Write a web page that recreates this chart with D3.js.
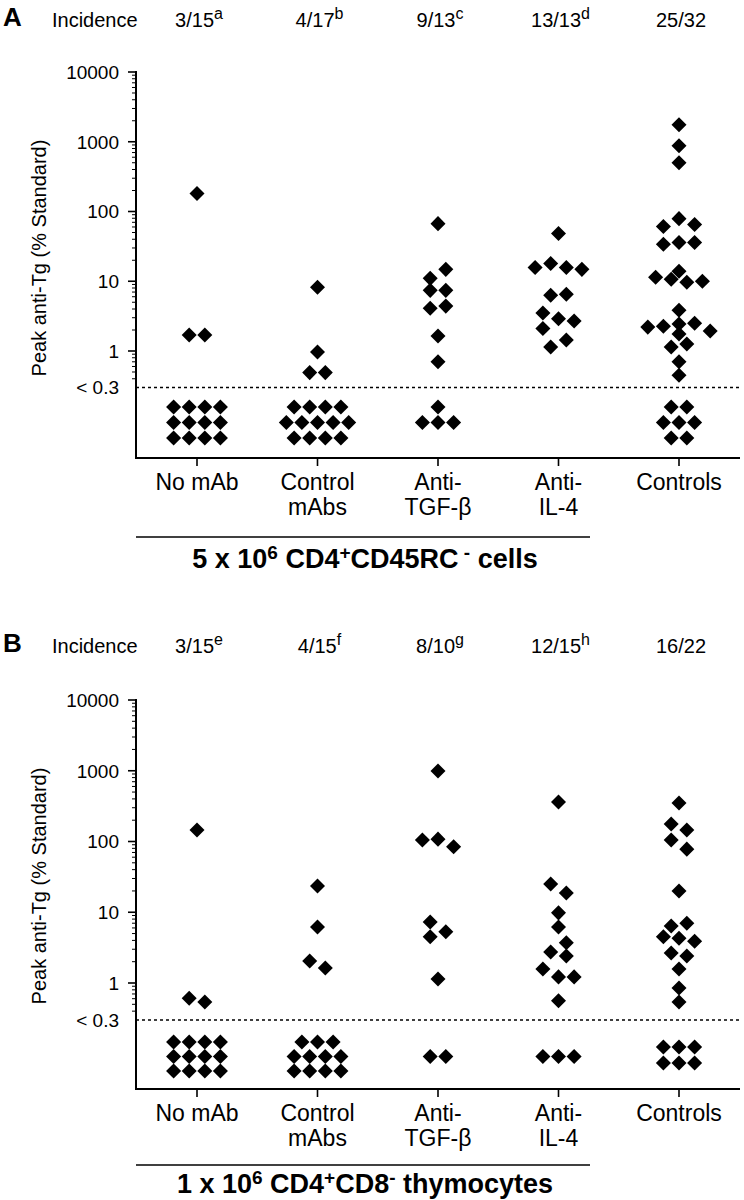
<!DOCTYPE html>
<html>
<head>
<meta charset="utf-8">
<script src="https://cdn.jsdelivr.net/npm/d3@7"></script>
<style>
  html, body { margin: 0; padding: 0; background: #fff; }
  svg { display: block; }
</style>
</head>
<body>
<svg id="chart" width="744" height="1200"></svg>
<script>
// ---------------- DATA ----------------
const categories = ["No mAb", "Control mAbs", "Anti-TGF-β", "Anti-IL-4", "Controls"];
const categoryLines = [["No mAb"], ["Control", "mAbs"], ["Anti-", "TGF-β"], ["Anti-", "IL-4"], ["Controls"]];

const incidenceA = ["3/15", "4/17", "9/13", "13/13", "25/32"];
const incidenceNotesA = ["a", "b", "c", "d", ""];
const incidenceB = ["3/15", "4/15", "8/10", "12/15", "16/22"];
const incidenceNotesB = ["e", "f", "g", "h", ""];

const yTickValues = [1, 10, 100, 1000, 10000];
const yTickLabels = ["1", "10", "100", "1000", "10000"];
const yMinorTicks = [0.4, 0.5, 0.6, 0.7, 0.8, 0.9,
  2, 3, 4, 5, 6, 7, 8, 9, 20, 30, 40, 50, 60, 70, 80, 90,
  200, 300, 400, 500, 600, 700, 800, 900, 2000, 3000, 4000, 5000, 6000, 7000, 8000, 9000];
const threshold = 0.3;
const thresholdLabel = "< 0.3";
const yTitle = "Peak anti-Tg (% Standard)";

// detected values: [peak anti-Tg (% standard), horizontal offset in symbol widths]
const aNoMab = [[181, 0], [1.7, -0.5], [1.7, 0.5]];
const aControlMabs = [[8.2, 0], [0.97, 0], [0.49, -0.5], [0.49, 0.5]];
const aAntiTGF = [[67, 0], [14.8, 0.5], [11, -0.5], [7.4, -0.5], [7.4, 0.5], [4.1, -0.5], [4.4, 0.5], [1.64, 0], [0.70, 0]];
const aAntiIL4 = [[48.5, 0], [15.8, -1.5], [18, -0.5], [15.8, 0.5], [14.8, 1.5], [6.3, -0.5], [6.5, 0.5],
  [3.5, -1], [2.9, 0], [2.7, 1], [2.1, -1], [1.44, 0.5], [1.14, -0.5]];
const aControls = [[1750, 0], [877, 0], [500, 0], [79, 0], [61, -1], [65, 1], [33.8, -1], [36, 0], [36, 1],
  [11.4, -1.5], [10.7, -0.5], [13.9, 0], [9.7, 0.5], [10, 1.5], [3.85, 0],
  [2.2, -2], [2.27, -1], [2.43, 0], [2.5, 1], [1.93, 2], [1.75, 0], [1.14, -0.5], [1.26, 0.5], [0.70, 0], [0.45, 0]];

// below detection (< 0.3): [row, horizontal offset in symbol widths]
const aNoMabND = [[0, -1.5], [0, -0.5], [0, 0.5], [0, 1.5], [1, -1.5], [1, -0.5], [1, 0.5], [1, 1.5], [2, -1.5], [2, -0.5], [2, 0.5], [2, 1.5]];
const aControlMabsND = [[0, -1.5], [0, -0.5], [0, 0.5], [0, 1.5], [1, -2], [1, -1], [1, 0], [1, 1], [1, 2], [2, -1.5], [2, -0.5], [2, 0.5], [2, 1.5]];
const aAntiTGFND = [[0, 0], [1, -1], [1, 0], [1, 1]];
const aAntiIL4ND = [];
const aControlsND = [[0, -0.5], [0, 0.5], [1, -1], [1, 0], [1, 1], [2, -0.5], [2, 0.5]];

const bNoMab = [[145, 0], [0.61, -0.5], [0.54, 0.5]];
const bControlMabs = [[23.5, 0], [6.2, 0], [2.05, -0.5], [1.63, 0.5]];
const bAntiTGF = [[992, 0], [105, -1], [108, 0], [84, 1], [7.3, -0.5], [4.5, -0.5], [5.3, 0.5], [1.14, 0]];
const bAntiIL4 = [[361, 0], [25, -0.5], [18.7, 0.5], [9.8, 0], [6.2, 0], [3.7, 0.5], [2.74, -0.5], [2.4, 0.5],
  [1.58, -1], [1.22, 0], [1.22, 1], [0.56, 0]];
const bControls = [[350, 0], [177, -0.5], [145, 0.5], [105, -0.5], [78, 0.5], [20, 0], [6.4, -0.5], [7.0, 0.5],
  [4.5, -1], [4.3, 0], [3.9, 1], [2.65, -0.5], [2.4, 0.5], [1.58, 0], [0.85, 0], [0.54, 0]];

const bNoMabND = [[0, -1.5], [0, -0.5], [0, 0.5], [0, 1.5], [1, -1.5], [1, -0.5], [1, 0.5], [1, 1.5], [2, -1.5], [2, -0.5], [2, 0.5], [2, 1.5]];
const bControlMabsND = [[0, -1], [0, 0], [0, 1], [1, -1.5], [1, -0.5], [1, 0.5], [1, 1.5], [2, -1.5], [2, -0.5], [2, 0.5], [2, 1.5]];
const bAntiTGFND = [[1, -0.5], [1, 0.5]];
const bAntiIL4ND = [[1, -1], [1, 0], [1, 1]];
const bControlsND = [[0.35, -1], [0.35, 0], [0.35, 1], [1.45, -1], [1.45, 0], [1.45, 1]];

const captionA = [["5 x 10", false], ["6", true], [" CD4", false], ["+", true], ["CD45RC", false], [" -", true], [" cells", false]];
const captionB = [["1 x 10", false], ["6", true], [" CD4", false], ["+", true], ["CD8", false], ["-", true], [" thymocytes", false]];

// ---------------- DRAWING ----------------
const FONT = "'Liberation Sans', Arial, Helvetica, sans-serif";
const svg = d3.select("#chart");

const x = d3.scalePoint().domain(categories).range([197, 679]);
const STEP = 15.6;
const diamond = d3.symbol().type(d3.symbolSquare).size(113)();

function richText(g, parts, opts) {
  const t = g.append("text")
    .attr("x", opts.x).attr("y", opts.y)
    .attr("text-anchor", opts.anchor || "start")
    .attr("font-family", FONT)
    .attr("font-size", opts.size)
    .attr("font-weight", opts.weight || "normal")
    .attr("fill", "#000");
  let raised = false;
  parts.forEach(([s, sup]) => {
    const ts = t.append("tspan").text(s);
    if (sup) {
      ts.attr("font-size", opts.supSize);
      if (!raised) ts.attr("dy", -opts.shift);
      raised = true;
    } else {
      if (raised) ts.attr("dy", opts.shift);
      raised = false;
    }
  });
  return t;
}

function drawPanel(cfg) {
  const g = svg.append("g");
  const y = d3.scaleLog().domain([1, 10000]).range([cfg.y1, cfg.yTop]);
  const xLeft = 136, xRight = 740;

  // panel letter
  g.append("text").attr("x", 3).attr("y", cfg.letterY)
    .attr("font-family", FONT).attr("font-size", 26).attr("font-weight", "bold")
    .text(cfg.letter);
  // incidence row
  g.append("text").attr("x", 52).attr("y", cfg.incY)
    .attr("font-family", FONT).attr("font-size", 20).text("Incidence");
  categories.forEach((c, i) => {
    const parts = [[cfg.incidence[i], false]];
    if (cfg.notes[i]) parts.push([cfg.notes[i], true]);
    richText(g, parts, { x: x(c) + 2, y: cfg.incY, anchor: "middle", size: 20, supSize: 16, shift: 8 });
  });

  // y axis
  g.append("line").attr("x1", xLeft).attr("x2", xLeft).attr("y1", cfg.yTop - 1).attr("y2", cfg.xAxisY)
    .attr("stroke", "#000").attr("stroke-width", 2);
  g.selectAll(".maj").data(yTickValues).join("line")
    .attr("x1", xLeft - 8).attr("x2", xLeft).attr("y1", d => y(d)).attr("y2", d => y(d))
    .attr("stroke", "#000").attr("stroke-width", 1.6);
  g.selectAll(".min").data(yMinorTicks).join("line")
    .attr("x1", xLeft - 4).attr("x2", xLeft).attr("y1", d => y(d)).attr("y2", d => y(d))
    .attr("stroke", "#000").attr("stroke-width", 1);
  g.selectAll(".tl").data(yTickValues).join("text")
    .attr("x", xLeft - 17).attr("y", d => y(d)).attr("dy", "0.36em")
    .attr("text-anchor", "end").attr("font-family", FONT).attr("font-size", 19)
    .text((d, i) => yTickLabels[i]);
  // threshold
  g.append("line").attr("x1", xLeft).attr("x2", xRight).attr("y1", y(threshold)).attr("y2", y(threshold))
    .attr("stroke", "#000").attr("stroke-width", 1.5).attr("stroke-dasharray", "3,3");
  g.append("text").attr("x", xLeft - 17).attr("y", y(threshold)).attr("dy", "0.36em")
    .attr("text-anchor", "end").attr("font-family", FONT).attr("font-size", 19).text(thresholdLabel);
  // y title
  g.append("text").attr("transform", `translate(46,${cfg.yTop + 186}) rotate(-90)`)
    .attr("text-anchor", "middle").attr("font-family", FONT).attr("font-size", 20).text(yTitle);

  // x axis
  g.append("line").attr("x1", xLeft - 1).attr("x2", xRight).attr("y1", cfg.xAxisY).attr("y2", cfg.xAxisY)
    .attr("stroke", "#000").attr("stroke-width", 2);
  g.selectAll(".xt").data(categories).join("line")
    .attr("x1", d => x(d)).attr("x2", d => x(d)).attr("y1", cfg.xAxisY).attr("y2", cfg.xAxisY + 8)
    .attr("stroke", "#000").attr("stroke-width", 1.6);
  categories.forEach((c, i) => {
    const t = g.append("text").attr("text-anchor", "middle").attr("font-family", FONT).attr("font-size", 23);
    categoryLines[i].forEach((ln, j) => {
      t.append("tspan").attr("x", x(c)).attr("y", cfg.xAxisY + 32 + j * 25).text(ln);
    });
  });

  // caption
  g.append("line").attr("x1", xLeft).attr("x2", 590).attr("y1", cfg.lineY).attr("y2", cfg.lineY)
    .attr("stroke", "#000").attr("stroke-width", 1.6);
  richText(g, cfg.caption, { x: 365, y: cfg.captionY, anchor: "middle", size: 27, supSize: 19, shift: 9, weight: "bold" });

  // points
  categories.forEach((c, i) => {
    g.selectAll(null).data(cfg.values[i]).join("path")
      .attr("d", diamond)
      .attr("transform", d => `translate(${x(c) + d[1] * STEP},${y(d[0])}) rotate(45)`)
      .attr("fill", "#000");
    g.selectAll(null).data(cfg.nd[i]).join("path")
      .attr("d", diamond)
      .attr("transform", d => `translate(${x(c) + d[1] * STEP},${cfg.ndTop + d[0] * cfg.ndStep}) rotate(45)`)
      .attr("fill", "#000");
  });
}

drawPanel({
  letter: "A", letterY: 26, incY: 27,
  incidence: incidenceA, notes: incidenceNotesA,
  yTop: 72, y1: 351, xAxisY: 458, ndTop: 407, ndStep: 15.5,
  lineY: 537, captionY: 568, caption: captionA,
  values: [aNoMab, aControlMabs, aAntiTGF, aAntiIL4, aControls],
  nd: [aNoMabND, aControlMabsND, aAntiTGFND, aAntiIL4ND, aControlsND]
});
drawPanel({
  letter: "B", letterY: 652, incY: 653,
  incidence: incidenceB, notes: incidenceNotesB,
  yTop: 700, y1: 983, xAxisY: 1089, ndTop: 1042, ndStep: 14.5,
  lineY: 1165, captionY: 1193, caption: captionB,
  values: [bNoMab, bControlMabs, bAntiTGF, bAntiIL4, bControls],
  nd: [bNoMabND, bControlMabsND, bAntiTGFND, bAntiIL4ND, bControlsND]
});
</script>
</body>
</html>
